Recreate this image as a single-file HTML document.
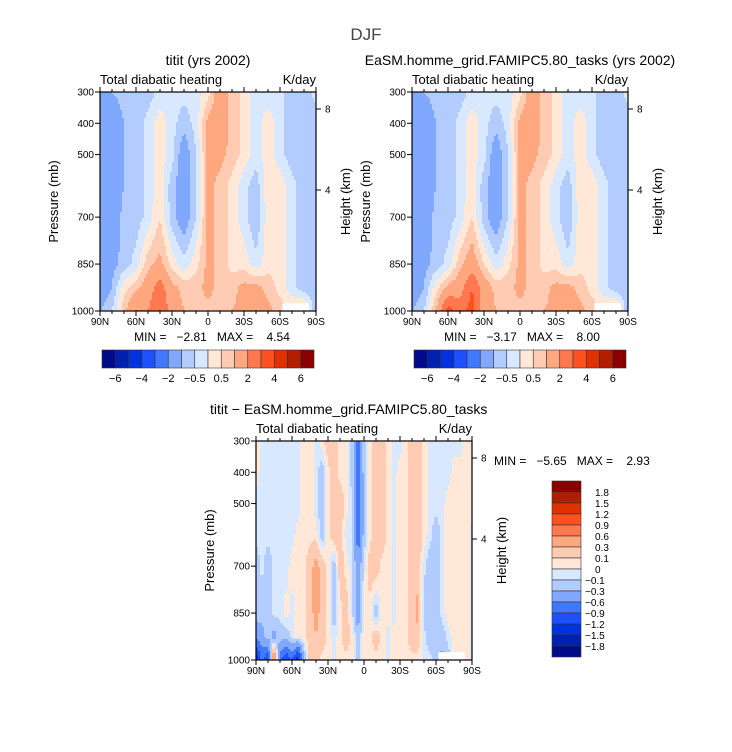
<!DOCTYPE html>
<html><head><meta charset="utf-8">
<style>
body{margin:0;background:#fff;}
svg{display:block;font-family:"Liberation Sans",sans-serif;}
.pre{white-space:pre;}
</style></head>
<body>
<svg id="chart" width="732" height="752" viewBox="0 0 732 752" xmlns="http://www.w3.org/2000/svg"></svg>
<script>
const lats19 = [90,80,70,60,50,40,30,20,10,0,-10,-20,-30,-40,-50,-60,-70,-80,-90];
const lats37 = [90,85,80,75,70,65,60,55,50,45,40,35,30,25,20,15,10,5,0,-5,-10,-15,-20,-25,-30,-35,-40,-45,-50,-55,-60,-65,-70,-75,-80,-85,-90];
const levels = [300,400,500,600,700,850,925,1000];
const yTicks = [300,400,500,700,850,1000];
const xTickLabels = ["90N","60N","30N","0","30S","60S","90S"];
const xTickLats = [90,60,30,0,-30,-60,-90];
const contourTop = [-6,-5,-4,-3,-2,-1,-0.5,0,0.5,1,2,3,4,5,6];
const topBarLabels = ["-6","-4","-2","-0.5","0.5","2","4","6"];
const contourDiff = [-1.8,-1.5,-1.2,-0.9,-0.6,-0.3,-0.1,0,0.1,0.3,0.6,0.9,1.2,1.5,1.8];
const diffBarLabels = ["1.8","1.5","1.2","0.9","0.6","0.3","0.1","0","-0.1","-0.3","-0.6","-0.9","-1.2","-1.5","-1.8"];
const colors = ["#000a8a","#0020b0","#0032e0","#1e50ff","#4078ff","#80a8ff","#b3ccff","#d8e8ff","#ffe8d8","#ffccb3","#ffa880","#ff7850","#ff5020","#e03200","#b02000","#8a0000"];

const fieldA = [
[-1,-1,-0.8,-0.8,-0.8,-0.3,-0.3,-0.3,-0.3,0.3,1.5,0.8,0.3,-0.3,-0.3,-0.3,-0.8,-0.8,-0.3],
[-1.5,-1.5,-1,-0.8,-0.3,0.3,-0.3,-0.8,-0.3,1.2,1.5,0.8,0.3,-0.3,0.3,-0.3,-0.8,-0.8,-0.8],
[-1.5,-1.5,-1,-0.8,-0.3,0.3,-0.3,-1.5,-0.5,1.2,1.2,0.8,0.3,-0.3,0.3,-0.3,-0.8,-0.8,-0.8],
[-1.5,-1.5,-1,-0.8,-0.3,0.3,-0.8,-1.5,-0.5,1.2,0.8,0.3,-0.3,-0.8,0.3,0.3,-0.3,-0.8,-0.8],
[-1.5,-1.5,-0.8,-0.8,-0.3,0.5,-0.8,-1.5,-0.5,1.2,0.8,0.3,-0.3,-1,0.3,0.3,-0.3,-0.8,-1],
[-1.5,-1.2,-0.8,-0.3,0.8,1.2,0.3,-0.3,0.3,1.2,0.8,0.3,0.3,-0.3,0.3,0.3,-0.3,-0.8,-1],
[-1.5,-1,0.3,0.8,1.5,2.5,1.2,0.8,0.8,1.2,0.8,0.8,1.2,1.2,0.8,0.3,-0.3,-0.8,-1],
[-1,-0.5,0.8,2,2,3,1.5,1,0.8,0.8,0.8,1,1.2,1.5,1.2,0.8,0.5,1,-1]];
const fieldB = [
[-1,-1,-0.8,-0.8,-0.8,-0.3,-0.3,-0.3,-0.3,0.3,1.5,0.8,0.3,-0.3,-0.3,-0.3,-0.8,-0.8,-0.3],
[-1.5,-1.5,-1,-0.8,-0.3,0.3,-0.3,-0.8,-0.3,1.2,1.5,0.8,0.3,-0.3,0.3,-0.3,-0.8,-0.8,-0.8],
[-1.5,-1.5,-1,-0.8,-0.3,0.3,-0.3,-1.5,-0.5,1.2,1.2,0.8,0.3,-0.3,0.3,-0.3,-0.8,-0.8,-0.8],
[-1.5,-1.5,-1,-0.8,-0.3,0.3,-0.8,-1.5,-0.5,1.2,0.8,0.3,-0.3,-0.8,0.3,0.3,-0.3,-0.8,-0.8],
[-1.5,-1.5,-0.8,-0.8,-0.3,0.5,-0.8,-1.5,-0.5,1.2,0.8,0.3,-0.3,-1,0.3,0.3,-0.3,-0.8,-1],
[-1.5,-1.2,-0.8,-0.3,0.8,1.5,0.5,-0.3,0.3,1.2,0.8,0.3,0.3,-0.3,0.3,0.3,-0.3,-0.8,-1],
[-1.5,-1,0.3,1.2,1.5,3,1.5,0.8,0.8,1.2,0.8,0.8,1.2,1.2,0.8,0.3,-0.3,-0.8,-1],
[-1,-0.5,1,3.5,2.5,3.5,1.5,1,0.8,0.8,0.8,1,1.2,1.5,1.2,0.8,0.5,1,-1]];
const fieldD = [
[0.05,-0.05,-0.05,-0.05,-0.05,-0.05,-0.05,-0.05,0.05,0.05,-0.05,0.05,0.2,0.2,0.05,0.05,-0.2,-0.7,-0.2, 0.05,0.2,0.2,0.05,-0.05,-0.05,0.05,0.2,0.2,0.05,-0.05,-0.05,-0.05,-0.05,-0.05,-0.05,0.05,0.05],
[0.05,-0.05,-0.05,-0.05,-0.05,-0.05,-0.05,-0.05,0.05,0.05,-0.05,-0.2,0.05,0.2,0.05,0.05,-0.2,-0.8,-0.2, 0.05,0.2,0.2,0.05,-0.05,0.05,0.05,0.2,0.2,0.05,-0.05,-0.05,-0.05,-0.05,0.05,0.05,0.05,0.05],
[-0.05,-0.05,-0.05,-0.05,-0.05,-0.05,-0.05,-0.05,0.05,0.05,-0.05,-0.2,0.05,0.2,0.2,0.05,-0.05,-0.8,-0.2, 0.05,0.2,0.2,0.05,-0.05,0.05,0.05,0.2,0.2,0.05,-0.05,-0.05,-0.05,0.05,0.05,0.05,0.05,0.05],
[-0.05,-0.05,-0.05,-0.05,-0.05,-0.05,-0.05,0.05,0.05,0.05,0.05,-0.2,0.05,0.2,0.2,-0.05,-0.05,-0.8,-0.2, 0.05,0.2,0.2,0.05,-0.05,0.05,0.05,0.2,0.2,0.05,-0.05,-0.2,-0.05,0.05,0.05,0.05,0.05,-0.05],
[-0.2,-0.05,-0.2,-0.05,-0.05,-0.05,0.05,0.05,0.05,0.2,0.4,0.2,0.05,-0.2,0.2,0.05,-0.05,-0.5,-0.05, 0.2,0.2,0.05,0.05,-0.05,0.05,0.05,0.2,0.2,-0.05,-0.2,-0.2,-0.05,0.05,0.05,0.05,0.05,-0.05],
[-0.2,-0.2,-0.2,-0.05,-0.05,0.05,-0.05,0.05,0.05,0.2,0.4,0.2,0.05,-0.2,0.05,0.2,-0.05,-0.5,0.05, 0.05,-0.2,0.05,0.05,-0.05,0.05,0.05,0.2,0.4,-0.2,-0.2,-0.2,-0.05,0.05,0.05,0.05,0.05,-0.05],
[-0.5,-0.4,-0.2,-0.4,-0.2,-0.2,-0.05,0.05,0.05,0.2,0.3,0.2,0.05,-0.05,0.05,0.2,0.05,-0.2,0.05, 0.05,0.2,0.05,-0.05,0.05,0.05,0.05,0.2,0.2,-0.05,-0.2,-0.2,-0.2,-0.05,0.05,0.05,0.05,-0.05],
[-1.5,-0.8,-1.2,0.9,-0.8,-1.2,-0.9,-1.5,-0.3,0.2,0.2,0.05,0.05,-0.05,0.05,0.05,0.05,-0.2,0.05, 0.05,0.05,0.05,-0.05,0.05,0.05,0.05,0.05,0.05,-0.05,-0.05,-0.2,-0.4,-0.2,0.05,0.05,0.05,-0.05]];

const NS="http://www.w3.org/2000/svg";
const svg=document.getElementById('chart');
function mk(tag,attrs,parent){const e=document.createElementNS(NS,tag);for(const k in attrs)e.setAttribute(k,attrs[k]);(parent||svg).appendChild(e);return e;}
function txt(s,x,y,size,anchor,parent,extra){const t=mk('text',Object.assign({x:x,y:y,'font-size':size,'text-anchor':anchor||'start',fill:'#000'},extra||{}),parent);t.textContent=s;return t;}

function classify(v,lev){let i=0;while(i<lev.length&&v>=lev[i])i++;return i;}
function sample(field,lats,lat,p){
  let fi=(lats[0]-lat)/(lats[0]-lats[lats.length-1])*(lats.length-1);
  let i0=Math.max(0,Math.min(lats.length-2,Math.floor(fi)));let tx=fi-i0;
  let j0=0;while(j0<levels.length-2&&p>levels[j0+1])j0++;
  let ty=(p-levels[j0])/(levels[j0+1]-levels[j0]);ty=Math.max(0,Math.min(1,ty));
  const a=field[j0][i0],b=field[j0][i0+1],c=field[j0+1][i0],d=field[j0+1][i0+1];
  return (a*(1-tx)+b*tx)*(1-ty)+(c*(1-tx)+d*tx)*ty;
}

function panel(name,x0,y0,w,h,field,lats,lev,opts){
  const g=mk('g',{});
  
  
  const xs=lat=>x0+(90-lat)/180*w;
  const ys=p=>y0+(p-300)/700*h;
  const step=2;
  for(let yy=0;yy<h;yy+=step){
    const p=300+(yy+step/2)/h*700;
    let runStart=0,runC=-1;
    for(let xx=0;xx<=w;xx+=step){
      let c=-2;
      if(xx<w){const lat=90-(xx+step/2)/w*180;c=classify(sample(field,lats,lat,p),lev);}
      if(c!==runC){
        if(runC>=0){const r=mk('rect',{x:x0+runStart,y:y0+yy,width:Math.min(xx,w)-runStart+0.5,height:Math.min(step,h-yy)+0.5,fill:colors[runC]},g);
          
          }
        runStart=xx;runC=c;
      }
    }
  }
  mk('rect',{x:xs(-62),y:ys(975),width:xs(-84)-xs(-62),height:ys(1000)-ys(975),fill:'#fff'},g);
  mk('rect',{x:x0,y:y0,width:w,height:h,fill:'none',stroke:'#000','stroke-width':1.2},g);
  for(let lat=90;lat>=-90;lat-=10){const X=xs(lat);const big=lat%30===0;
    mk('line',{x1:X,x2:X,y1:y0+h,y2:y0+h+(big?5:3),stroke:'#000'},g);
    mk('line',{x1:X,x2:X,y1:y0,y2:y0-(big?5:3),stroke:'#000'},g);}
  xTickLats.forEach((lat,i)=>{const t=txt(xTickLabels[i],xs(lat),y0+h+14,10,'middle',g);
    });
  yTicks.forEach(p=>{mk('line',{x1:x0-5,x2:x0,y1:ys(p),y2:ys(p),stroke:'#000'},g);
    const t=txt(String(p),x0-6,ys(p)+3.5,10,'end',g);
    });
  [[8,ys(300)+17],[4,ys(300)+98]].forEach(([km,Y])=>{mk('line',{x1:x0+w,x2:x0+w+5,y1:Y,y2:Y,stroke:'#000'},g);
    txt(String(km),x0+w+9,Y+3.5,10,'start',g);});
  const yt=txt('Pressure (mb)',0,0,13,'middle',g,{transform:`translate(${x0-42},${y0+h/2}) rotate(-90)`});
  
  const ht=txt('Height (km)',0,0,13,'middle',g,{transform:`translate(${x0+w+34},${y0+h/2}) rotate(-90)`});
  
  txt('Total diabatic heating',x0,y0-8,13,'start',g);
  txt('K/day',x0+w,y0-8,13,'end',g);
  txt(opts.title,opts.tx,y0-27,14,opts.tanchor||'middle',g);
  return g;
}

function hbar(name,x0,y0,w,h){
  const g=mk('g',{});
  const bw=w/colors.length;
  colors.forEach((c,i)=>{mk('rect',{x:x0+i*bw,y:y0,width:bw,height:h,fill:c,stroke:'#333','stroke-width':0.6},g);});
  topBarLabels.forEach((l,i)=>{txt(l.replace('-','\u2212'),x0+(2*i+1)*bw,y0+h+14,11,'middle',g);});
}
function vbar(name,x0,y0,w,h){
  const g=mk('g',{});
  const bh=h/colors.length;
  colors.slice().reverse().forEach((c,i)=>{mk('rect',{x:x0,y:y0+i*bh,width:w,height:bh,fill:c,stroke:'#333','stroke-width':0.6},g);});
  diffBarLabels.forEach((l,i)=>{txt(l.replace('-','\u2212'),x0+w+(l.startsWith('-')?4:14),y0+(i+1)*bh+4,10,'start',g);});
}

const title=txt('DJF',366,40,17,'middle',svg,{fill:'#444'});


panel('left-panel',100,92,216,219,fieldA,lats19,contourTop,{title:'titit (yrs 2002)',tx:208});
panel('right-panel',412,92,216,219,fieldB,lats19,contourTop,{title:'EaSM.homme_grid.FAMIPC5.80_tasks (yrs 2002)',tx:520});
panel('diff-panel',256,441,216,219,fieldD,lats37,contourDiff,{title:'titit \u2212 EaSM.homme_grid.FAMIPC5.80_tasks',tx:210,tanchor:'start'});

txt('MIN =   \u22122.81   MAX =    4.54',212,341,12,'middle',svg,{'class':'pre'});
txt('MIN =   \u22123.17   MAX =    8.00',522,341,12,'middle',svg,{'class':'pre'});
txt('MIN =   \u22125.65   MAX =    2.93',494,465,12,'start',svg,{'class':'pre'});
hbar('left-colorbar',102,350,212,18);
hbar('right-colorbar',414,350,212,18);
vbar('diff-colorbar',552,481,29,176);
</script>
</body></html>
